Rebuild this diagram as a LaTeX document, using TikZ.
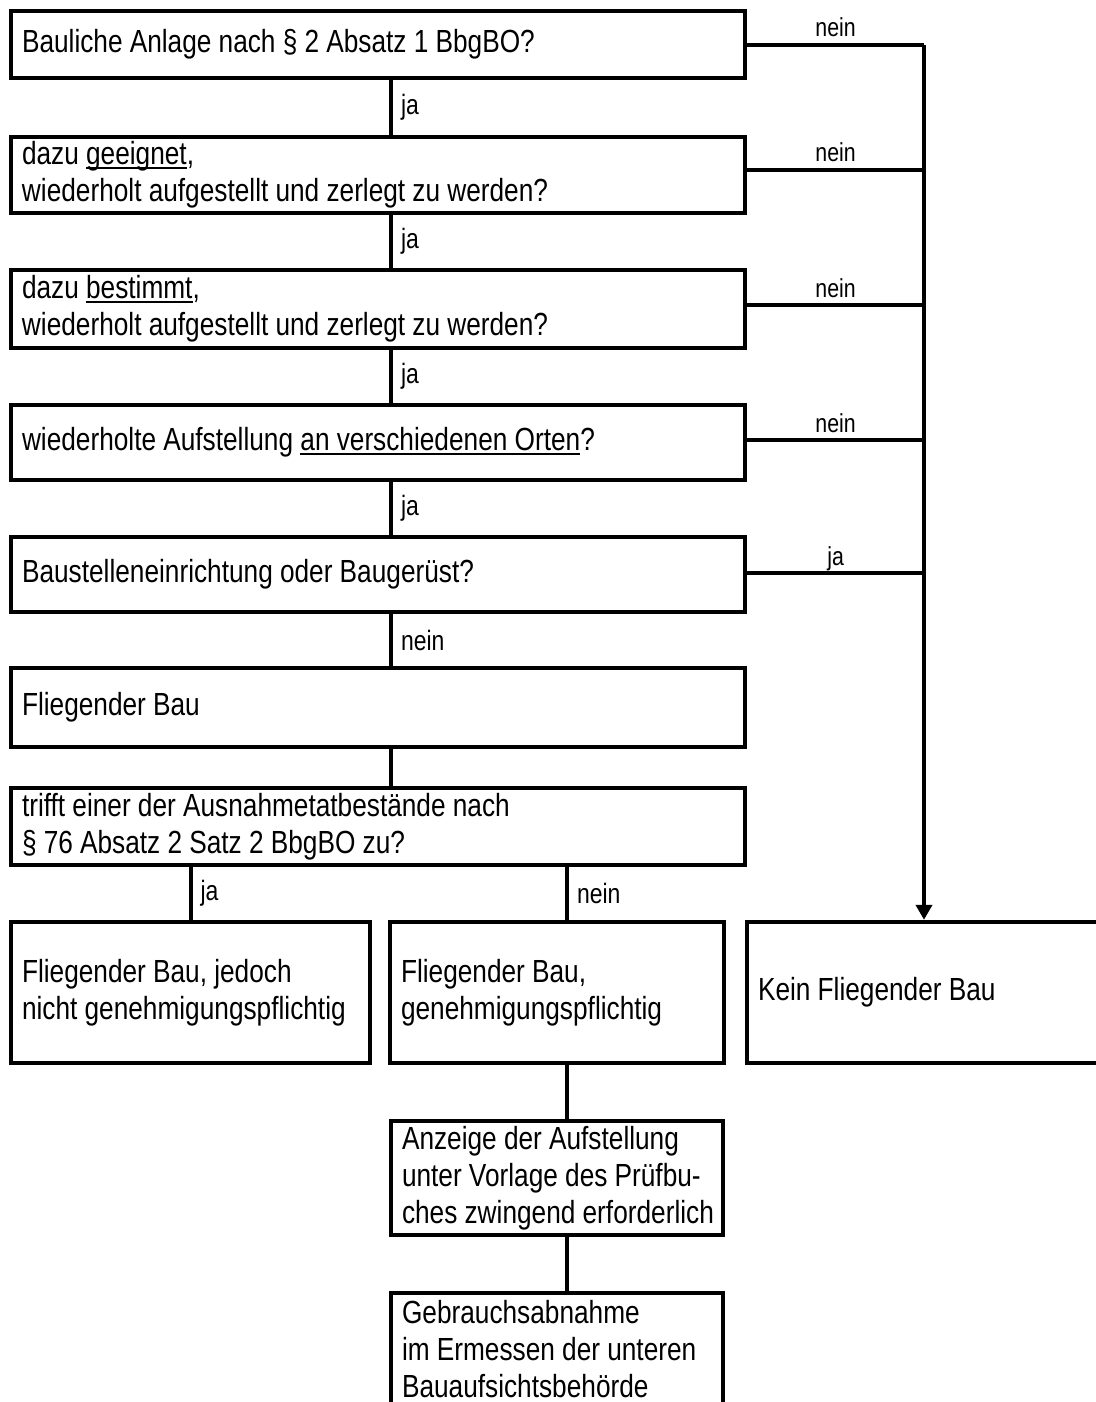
\documentclass[tikz,border=0pt]{standalone}
\usepackage{fontspec}
\setmainfont[FakeStretch=0.82]{Liberation Sans}
\newsavebox\ulbox
\newcommand\myul[1]{\sbox\ulbox{#1}\rlap{\rule[-2.1pt]{\wd\ulbox}{1pt}}\usebox\ulbox}
\usetikzlibrary{arrows.meta}
\newcommand\mainsz{\fontsize{16pt}{18.5pt}\selectfont}
\newcommand\labsz{\fontsize{14pt}{16pt}\selectfont}
\newcommand\rlabsz{\fontsize{13pt}{15pt}\selectfont}
\tikzset{
  box/.style={draw, line width=2.2pt, inner xsep=5.5pt, inner ysep=0pt, align=left, font=\mainsz, anchor=center,
    execute at begin node={\spaceskip=3.6pt plus 1pt minus 0.5pt\relax}},
  widebox/.style={box, text width=356pt, minimum height=#1},
  conn/.style={line width=2pt},
  lab/.style={font=\labsz, anchor=west, inner sep=0pt, xshift=4pt},
  rlab/.style={font=\rlabsz, anchor=base, inner sep=0pt, yshift=4pt},
  tip/.style={-{Triangle[width=8pt,length=7.5pt]}}
}
\begin{document}
\begin{tikzpicture}[x=0.5pt,y=-0.5pt]
\useasboundingbox (0,0) rectangle (1096,1402);
\clip (0,0) rectangle (1096,1402);
% boxes
\node[widebox=33.5pt] (b1) at (378,44.5) {Bauliche Anlage nach § 2 Absatz 1 BbgBO?};
\node[widebox=38pt] (b2) at (378,175) {dazu \myul{geeignet},\\wiederholt aufgestellt und zerlegt zu werden?};
\node[widebox=39pt] (b3) at (378,309) {dazu \myul{bestimmt},\\wiederholt aufgestellt und zerlegt zu werden?};
\node[widebox=37.5pt] (b4) at (378,442.5) {wiederholte Aufstellung \myul{an verschiedenen Orten}?};
\node[widebox=37.5pt] (b5) at (378,574.5) {Baustelleneinrichtung oder Baugerüst?};
\node[widebox=39.5pt] (b6) at (378,707.5) {Fliegender Bau};
\node[widebox=38.5pt] (b7) at (378,826.5) {trifft einer der Ausnahmetatbestände nach\\§ 76 Absatz 2 Satz 2 BbgBO zu?};
\node[box, text width=168.5pt, minimum height=70.5pt] (na) at (190.5,992.5) {\mbox{Fliegender Bau, jedoch}\\\mbox{nicht genehmigungspflichtig}};
\node[box, text width=156pt, minimum height=70.5pt] (nb) at (557,992.5) {\mbox{Fliegender Bau,}\\\mbox{genehmigungspflichtig}};
\node[box, text width=170.5pt, minimum height=70.5pt] (nc) at (928.5,992.5) {\mbox{Kein Fliegender Bau}};
\node[box, text width=155pt, minimum height=57pt] (nd) at (557,1178) {\mbox{Anzeige der Aufstellung}\\\mbox{unter Vorlage des Prüfbu-}\\\mbox{ches zwingend erforderlich}};
\node[box, text width=155pt, minimum height=56.5pt] (ne) at (557,1349.5) {\mbox{Gebrauchsabnahme}\\\mbox{im Ermessen der unteren}\\\mbox{Bauaufsichtsbehörde}};
% helper coordinates
\coordinate (j1) at (924,45);
\coordinate (j2) at (924,170);
\coordinate (j3) at (924,305);
\coordinate (j4) at (924,440);
\coordinate (j5) at (924,573);
\coordinate (cx) at (391,0);
\coordinate (nx) at (567,0);
% right side connectors
\draw[conn] (b1.east |- j1) -- node[rlab]{nein} (j1);
\draw[conn] (b2.east |- j2) -- node[rlab]{nein} (j2);
\draw[conn] (b3.east |- j3) -- node[rlab]{nein} (j3);
\draw[conn] (b4.east |- j4) -- node[rlab]{nein} (j4);
\draw[conn] (b5.east |- j5) -- node[rlab]{ja} (j5);
\draw[conn, tip] (j1) -- (j1 |- nc.north);
% central connectors
\draw[conn] (b1.south -| cx) -- node[lab]{ja} (b2.north -| cx);
\draw[conn] (b2.south -| cx) -- node[lab]{ja} (b3.north -| cx);
\draw[conn] (b3.south -| cx) -- node[lab]{ja} (b4.north -| cx);
\draw[conn] (b4.south -| cx) -- node[lab]{ja} (b5.north -| cx);
\draw[conn] (b5.south -| cx) -- node[lab]{nein} (b6.north -| cx);
\draw[conn] (b6.south -| cx) -- (b7.north -| cx);
\draw[conn] (b7.south -| na) -- node[lab]{ja} (na.north);
\draw[conn] (b7.south -| nx) -- node[lab]{nein} (nb.north -| nx);
\draw[conn] (nb.south -| nx) -- (nd.north -| nx);
\draw[conn] (nd.south -| nx) -- (ne.north -| nx);
\end{tikzpicture}
\end{document}
